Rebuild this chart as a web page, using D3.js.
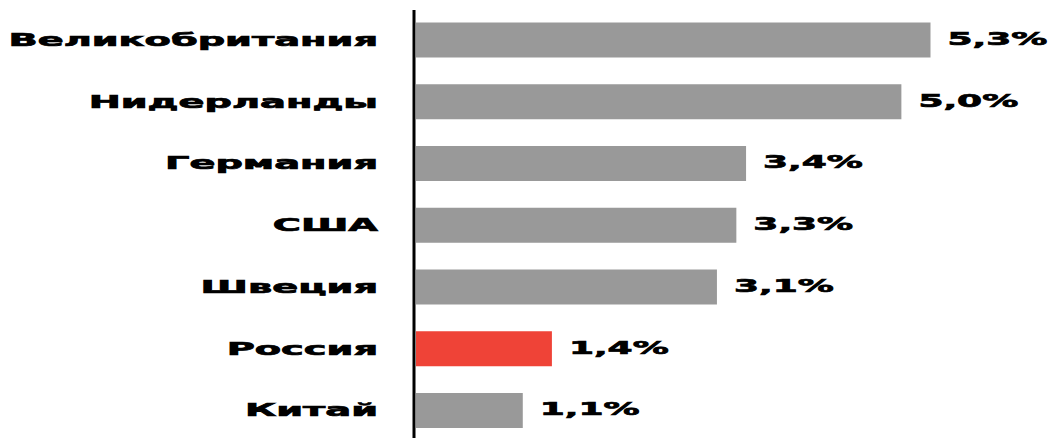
<!DOCTYPE html>
<html>
<head>
<meta charset="utf-8">
<script src="https://cdn.jsdelivr.net/npm/d3@7"></script>
<style>
    html, body { margin: 0; padding: 0; background: #fff; }
    svg { display: block; }
    .lbl { font-family: "DejaVu Sans", sans-serif; font-weight: bold; font-size: 18px; fill: #000; stroke: #000; stroke-width: 0.7px; }
</style>
</head>
<body>
<svg id="chart"></svg>
<script>
// Horizontal bar chart: share by country
const categories = ['Великобритания', 'Нидерланды', 'Германия', 'США', 'Швеция', 'Россия', 'Китай'];
const values = [5.3, 5.0, 3.4, 3.3, 3.1, 1.4, 1.1];
const valueLabels = ['5,3%', '5,0%', '3,4%', '3,3%', '3,1%', '1,4%', '1,1%'];
const highlight = 'Россия';

(function() {
    const width = 1057, height = 438;
    const svg = d3.select('#chart').attr('width', width).attr('height', height);

    const x = d3.scaleLinear().domain([0, 5.3]).range([416, 930.5]);
    const y = d3.scalePoint().domain(categories).range([40, 410.5]);
    const barH = 35;

    const rows = categories.map((c, i) => ({ cat: c, val: values[i], text: valueLabels[i] }));

    svg.selectAll('.bar').data(rows).enter().append('rect')
        .attr('class', 'bar')
        .attr('x', x(0))
        .attr('y', d => y(d.cat) - barH / 2)
        .attr('width', d => x(d.val) - x(0))
        .attr('height', barH)
        .attr('fill', d => d.cat === highlight ? '#ef4337' : '#999999');

    // axis line
    svg.append('line')
        .attr('x1', 414).attr('x2', 414)
        .attr('y1', 10).attr('y2', height)
        .attr('stroke', '#000').attr('stroke-width', 3);

    // category labels
    svg.selectAll('.cat').data(rows).enter().append('text')
        .attr('class', 'lbl cat')
        .attr('text-anchor', 'end')
        .attr('dy', '0.33em')
        .attr('transform', d => 'translate(378,' + y(d.cat) + ') scale(2.13,1)')
        .text(d => d.cat);

    // value labels
    svg.selectAll('.val').data(rows).enter().append('text')
        .attr('class', 'lbl val')
        .attr('dy', '0.33em')
        .attr('transform', d => 'translate(' + (x(d.val) + 17) + ',' + (y(d.cat) - 1) + ') scale(2.0,1)')
        .text(d => d.text);
})();
</script>
</body>
</html>
